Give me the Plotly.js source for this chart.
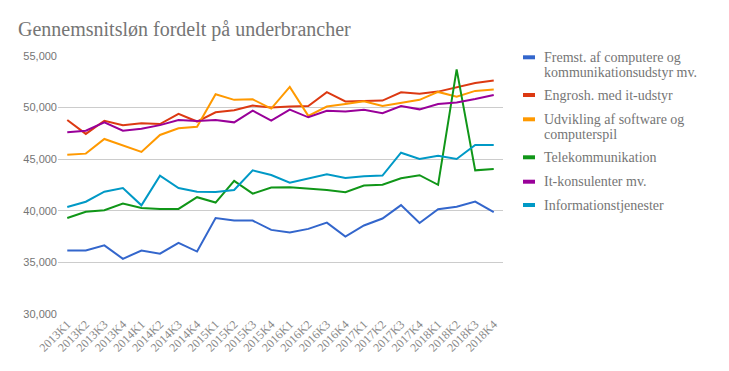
<!DOCTYPE html>
<html>
<head>
<meta charset="utf-8">
<script src="https://cdn.plot.ly/plotly-3.0.1.min.js"></script>
<style>
html,body{margin:0;padding:0;background:#fff;}
#chart{width:729px;height:371px;}
</style>
</head>
<body>
<div id="chart"></div>
<script>
const quarters = ["2013K1","2013K2","2013K3","2013K4","2014K1","2014K2","2014K3","2014K4","2015K1","2015K2","2015K3","2015K4","2016K1","2016K2","2016K3","2016K4","2017K1","2017K2","2017K3","2017K4","2018K1","2018K2","2018K3","2018K4"];

const seriesNames = ["Fremst. af computere og<br>kommunikationsudstyr mv.","Engrosh. med it-udstyr","Udvikling af software og<br>computerspil","Telekommunikation","It-konsulenter mv.","Informationstjenester"];
const seriesColors = ["#3366cc","#dc3912","#ff9900","#109618","#990099","#0099c6"];

const fremst = [36150,36150,36650,35350,36150,35850,36900,36050,39300,39050,39050,38150,37900,38250,38850,37500,38580,39250,40550,38820,40150,40400,40900,39870];
const engrosh = [48800,47450,48730,48300,48480,48400,49400,48650,49550,49750,50200,50000,50100,50150,51500,50600,50650,50680,51480,51350,51550,51950,52380,52620];
const udvikling = [45420,45540,46960,46350,45700,47350,48000,48150,51300,50750,50800,49900,52000,49200,50100,50350,50620,50150,50480,50750,51520,51050,51620,51750];
const telekom = [39300,39900,40050,40700,40280,40180,40180,41320,40800,42900,41660,42250,42280,42180,42020,41800,42450,42530,43160,43450,42520,53700,43920,44050];
const itkons = [47600,47760,48570,47760,47960,48300,48800,48700,48800,48570,49700,48730,49800,49060,49700,49610,49780,49450,50150,49830,50350,50500,50830,51220];
const infotj = [40370,40880,41850,42210,40530,43400,42210,41850,41820,42020,43920,43470,42730,43150,43540,43180,43350,43420,45630,45020,45340,45020,46380,46380];

const seriesValues = [fremst, engrosh, udvikling, telekom, itkons, infotj];

const traces = seriesValues.map((vals, k) => ({
  type: "scatter",
  mode: "lines",
  x: quarters,
  y: vals,
  name: seriesNames[k].replace("<br>", " "),
  line: {color: seriesColors[k], width: 2},
  showlegend: false,
  hoverinfo: "x+y"
}));

const SERIF = "'Liberation Serif', 'Times New Roman', serif";
const SANS = "'Liberation Sans', Arial, sans-serif";

// custom legend (short swatches like the original)
const legendY = [57.3, 95, 119.3, 157.3, 181.7, 205];
const lineGap = 15;
const px2x = px => (px - 58) / (503 - 58);
const py2y = py => (314 - py) / (314 - 56);
const shapes = [];
const annotations = [];
legendY.forEach((py, k) => {
  shapes.push({type: "line", xref: "paper", yref: "paper",
    x0: px2x(523), x1: px2x(535), y0: py2y(py), y1: py2y(py),
    line: {color: seriesColors[k], width: 4}});
  seriesNames[k].split("<br>").forEach((part, j) => {
    annotations.push({xref: "paper", yref: "paper",
      x: px2x(542), y: py2y(py + j * lineGap),
      xanchor: "left", yanchor: "middle",
      align: "left", showarrow: false, text: part,
      font: {family: SERIF, size: 14, color: "#757575"}});
  });
});

const layout = {
  width: 729, height: 371,
  margin: {l: 58, r: 226, t: 56, b: 57},
  paper_bgcolor: "#ffffff", plot_bgcolor: "#ffffff",
  title: {text: "Gennemsnitsløn fordelt på underbrancher", xref: "container", x: 18 / 729, xanchor: "left",
    yref: "container", y: 1 - 29 / 371, yanchor: "middle",
    font: {family: SERIF, size: 20, color: "#757575"}},
  xaxis: {type: "category", range: [-0.5, 23.5], showgrid: false, zeroline: false, showline: false,
    ticks: "", tickangle: -45,
    tickfont: {family: SERIF, size: 12, color: "#8a8a8a"}},
  yaxis: {range: [30000, 55000], tickvals: [30000,35000,40000,45000,50000,55000], ticktext: ["30,000","35,000","40,000","45,000","50,000","55,000"],
    showgrid: true, gridcolor: "#cccccc", gridwidth: 1, zeroline: false, showline: false, ticks: "",
    tickfont: {family: SANS, size: 11, color: "#757575"}},
  shapes: shapes,
  annotations: annotations,
  showlegend: false
};

Plotly.newPlot("chart", traces, layout, {displayModeBar: false, staticPlot: true});
</script>
</body>
</html>
